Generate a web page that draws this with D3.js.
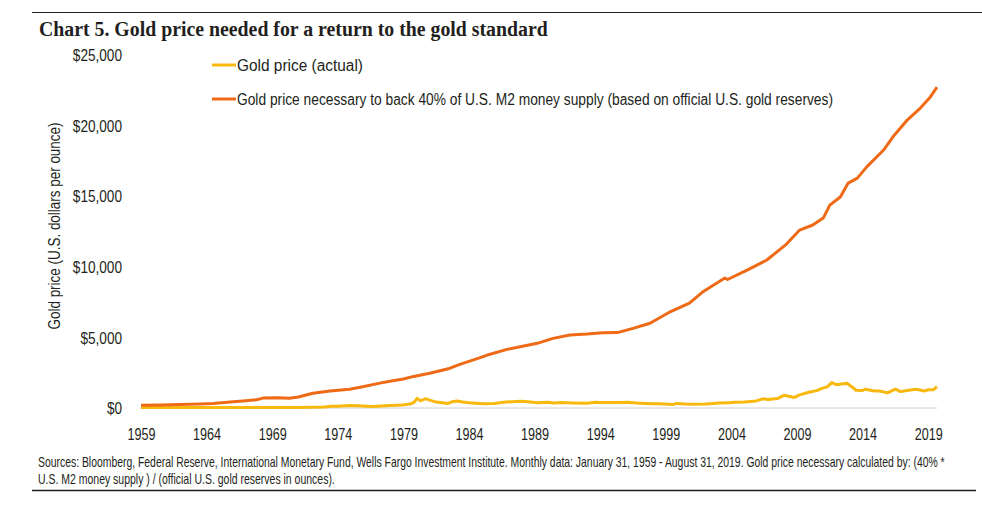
<!DOCTYPE html>
<html>
<head>
<meta charset="utf-8">
<script src="https://cdn.jsdelivr.net/npm/d3@7"></script>
<style>
  html, body { margin: 0; padding: 0; background: #fff; }
  svg { display: block; }
  text { font-family: "Liberation Sans", Arial, sans-serif; fill: #231f20; }
</style>
</head>
<body>
<svg id="chart" width="982" height="510"></svg>
<script>
// ---- Data (decimal years, US$ per ounce) ----
const actualYears = [1959.0,1968.0,1969.0,1970.0,1971.0,1972.0,1973.0,1973.5,1974.0,1974.9,1975.5,1976.6,1977.0,1978.0,1978.9,1979.5,1979.8,1980.05,1980.3,1980.7,1981.0,1981.5,1982.4,1982.7,1983.1,1983.5,1984.0,1985.1,1985.9,1986.8,1987.9,1988.5,1989.2,1990.0,1990.5,1991.0,1992.0,1993.0,1993.6,1994.0,1995.5,1996.1,1997.0,1997.9,1998.5,1999.6,1999.8,2000.5,2001.3,2002.0,2002.6,2003.0,2003.8,2004.3,2005.0,2005.9,2006.4,2006.8,2007.5,2008.0,2008.8,2009.2,2009.9,2010.5,2010.9,2011.3,2011.65,2012.0,2012.8,2013.3,2013.5,2014.0,2014.2,2014.9,2015.3,2015.9,2016.5,2016.9,2017.5,2018.1,2018.7,2019.0,2019.4,2019.67];
const actualValues = [35,35,42,35,38,46,65,120,130,185,165,105,132,175,215,280,390,680,510,660,560,420,320,440,500,420,370,300,325,420,480,440,380,410,360,385,355,330,400,385,385,405,345,295,295,255,325,285,260,280,315,355,380,400,425,500,650,600,665,900,750,930,1120,1230,1390,1500,1800,1650,1750,1420,1250,1240,1330,1200,1200,1070,1340,1160,1250,1330,1200,1290,1300,1520];

const neededYears = [1959.0,1960.5,1962.0,1963.5,1964.5,1965.8,1967.0,1967.8,1968.3,1969.5,1970.3,1971.0,1972.1,1973.4,1974.9,1975.9,1977.2,1978.3,1979.0,1979.7,1981.0,1982.5,1983.3,1984.8,1985.4,1986.9,1987.9,1989.2,1990.4,1991.7,1993.0,1994.2,1995.3,1996.5,1997.8,1999.2,2000.8,2001.8,2003.5,2003.7,2005.2,2006.7,2008.2,2009.2,2010.2,2011.0,2011.5,2012.3,2012.9,2013.6,2014.3,2015.6,2016.3,2017.4,2018.4,2019.1,2019.67];
const neededValues = [200,220,250,290,320,430,520,580,700,720,690,780,1040,1200,1330,1510,1760,1950,2050,2220,2460,2800,3090,3550,3750,4150,4340,4580,4930,5170,5240,5330,5340,5640,6000,6750,7430,8210,9200,9100,9770,10480,11610,12600,12960,13450,14370,14940,15930,16280,17060,18270,19190,20390,21240,21950,22730];

const xTickYears = [1959,1964,1969,1974,1979,1984,1989,1994,1999,2004,2009,2014,2019];
const yTickValues = [0,5000,10000,15000,20000,25000];

const seriesNames = ["Gold price (actual)", "Gold price necessary to back 40% of U.S. M2 money supply (based on official U.S. gold reserves)"];
const seriesColors = ["#F8B80E", "#EF6A17"];

const titleText = "Chart 5. Gold price needed for a return to the gold standard";
const yAxisLabel = "Gold price (U.S. dollars per ounce)";
const footerLines = [
  "Sources: Bloomberg, Federal Reserve, International Monetary Fund, Wells Fargo Investment Institute. Monthly data: January 31, 1959 - August 31, 2019. Gold price necessary calculated by: (40% *",
  "U.S. M2 money supply ) / (official U.S. gold reserves in ounces)."
];

// ---- helpers: condensed look (reference font is a narrow sans) ----
function condense(sel, ratio) {
  sel.each(function() {
    const w = this.getComputedTextLength();
    d3.select(this).attr("textLength", (w * ratio).toFixed(1)).attr("lengthAdjust", "spacingAndGlyphs");
  });
}
function fitTo(sel, width) {
  sel.attr("textLength", width).attr("lengthAdjust", "spacingAndGlyphs");
}
// squeeze horizontally with a transform so the drawn box is the real one
function squeezeAt(sel, x0, y0, width) {
  const w = sel.node().getComputedTextLength();
  sel.attr("x", 0).attr("y", 0)
     .attr("transform", `translate(${x0},${y0}) scale(${(width / w).toFixed(4)},1)`);
}

// ---- Drawing ----
const svg = d3.select("#chart");
const x = d3.scaleLinear().domain([1959, 2019.67]).range([141, 937]);
const y = d3.scaleLinear().domain([0, 25000]).range([408, 55]);

// rules
svg.append("line").attr("x1", 32).attr("x2", 982).attr("y1", 12.5).attr("y2", 12.5)
  .attr("stroke", "#231f20").attr("stroke-width", 1);
svg.append("line").attr("x1", 32).attr("x2", 976).attr("y1", 490.5).attr("y2", 490.5)
  .attr("stroke", "#231f20").attr("stroke-width", 1.3);

// title
const title = svg.append("text")
  .style("font-family", "'Liberation Serif', 'DejaVu Serif', serif")
  .style("font-weight", "bold").style("font-size", "21px")
  .text(titleText);
squeezeAt(title, 39, 36, 509);

// baseline
svg.append("line").attr("x1", 140).attr("x2", 937).attr("y1", y(0)).attr("y2", y(0))
  .attr("stroke", "#d0d0d0").attr("stroke-width", 1);

// y axis
const yAxis = d3.axisLeft(y).tickValues(yTickValues).tickFormat(d3.format("$,")).tickSize(0).tickPadding(0);
const gy = svg.append("g").attr("transform", "translate(122,0)").call(yAxis);
gy.select(".domain").remove();
gy.selectAll("text").style("font-size", "16px").style("font-family", "'Liberation Sans', Arial, sans-serif")
  .attr("fill", "#231f20").attr("dy", "0.35em").call(condense, 0.85);

// x axis
const xAxis = d3.axisBottom(x).tickValues(xTickYears).tickFormat(d3.format("d")).tickSize(0).tickPadding(0);
const gx = svg.append("g").attr("transform", "translate(0,427)").call(xAxis);
gx.select(".domain").remove();
gx.selectAll("text").style("font-size", "16px").style("font-family", "'Liberation Sans', Arial, sans-serif")
  .attr("fill", "#231f20").attr("dy", "0.8em").call(fitTo, 28);

// y label
svg.append("text").attr("transform", "translate(60,226) rotate(-90)")
  .attr("text-anchor", "middle").style("font-size", "16px").text(yAxisLabel)
  .call(fitTo, 207);

// lines
const line = d3.line().x(d => x(d[0])).y(d => y(d[1]));
const actual = actualYears.map((t, i) => [t, actualValues[i]]);
const needed = neededYears.map((t, i) => [t, neededValues[i]]);
svg.append("path").datum(actual).attr("d", line).attr("fill", "none")
  .attr("stroke", seriesColors[0]).attr("stroke-width", 3).attr("stroke-linejoin", "round");
svg.append("path").datum(needed).attr("d", line).attr("fill", "none")
  .attr("stroke", seriesColors[1]).attr("stroke-width", 3).attr("stroke-linejoin", "round");

// legend
const legendY = [65, 99];
const legendW = [126, 596];
seriesNames.forEach((name, i) => {
  svg.append("line").attr("x1", 212).attr("x2", 236).attr("y1", legendY[i]).attr("y2", legendY[i])
    .attr("stroke", seriesColors[i]).attr("stroke-width", 3);
  svg.append("text").attr("x", 237).attr("y", legendY[i]).attr("dy", "0.35em")
    .style("font-size", "16px").text(name).call(fitTo, legendW[i]);
});

// footer
const footerW = [907, 297];
footerLines.forEach((t, i) => {
  const el = svg.append("text").style("font-size", "14px").text(t);
  squeezeAt(el, 38, 467 + i * 16.5, footerW[i]);
});
</script>
</body>
</html>
